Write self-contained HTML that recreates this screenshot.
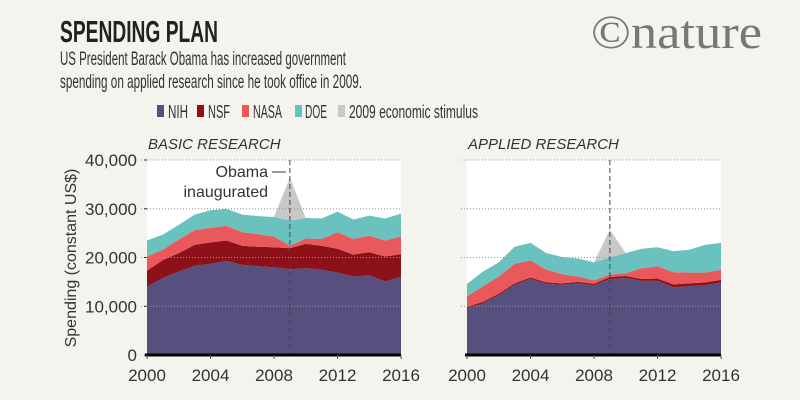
<!DOCTYPE html>
<html><head><meta charset="utf-8"><style>
body{margin:0;background:#f5f3ed;}
svg{display:block;font-family:"Liberation Sans",sans-serif;}
</style></head><body>
<svg id="chart" width="800" height="400" viewBox="0 0 800 400">
<rect x="0" y="0" width="800" height="400" fill="#f5f3ed"/>
<text x="60" y="42" font-size="31" font-weight="bold" fill="#222" textLength="158" lengthAdjust="spacingAndGlyphs">SPENDING PLAN</text>
<text x="60" y="65" font-size="19" fill="#333" textLength="286" lengthAdjust="spacingAndGlyphs">US President Barack Obama has increased government</text>
<text x="60" y="88" font-size="19" fill="#333" textLength="302" lengthAdjust="spacingAndGlyphs">spending on applied research since he took office in 2009.</text>
<text x="591" y="48" font-family="Liberation Serif,serif" font-size="48" fill="#777" textLength="171" lengthAdjust="spacingAndGlyphs">©nature</text>
<g>
<rect x="157" y="105" width="7" height="12" fill="#574f7e"/>
<text x="168" y="118" font-size="18" fill="#333" textLength="20" lengthAdjust="spacingAndGlyphs">NIH</text>
<rect x="197" y="105" width="7" height="12" fill="#8c1119"/>
<text x="208" y="118" font-size="18" fill="#333" textLength="22" lengthAdjust="spacingAndGlyphs">NSF</text>
<rect x="242" y="105" width="7" height="12" fill="#e9585a"/>
<text x="253" y="118" font-size="18" fill="#333" textLength="29" lengthAdjust="spacingAndGlyphs">NASA</text>
<rect x="295" y="105" width="7" height="12" fill="#6ac2bf"/>
<text x="305" y="118" font-size="18" fill="#333" textLength="22" lengthAdjust="spacingAndGlyphs">DOE</text>
<rect x="338" y="105" width="7" height="12" fill="#c8c8c8"/>
<text x="349" y="118" font-size="18" fill="#333" textLength="129" lengthAdjust="spacingAndGlyphs">2009 economic stimulus</text>
</g>
<text transform="translate(76,258) rotate(-90)" text-anchor="middle" font-size="16" fill="#333">Spending (constant US$)</text>
<g id="plots"></g>
</svg>
<script>
const years = [2000,2001,2002,2003,2004,2005,2006,2007,2008,2009,2010,2011,2012,2013,2014,2015,2016];
const xTicks = [2000,2004,2008,2012,2016];
const yTicks = [0,10000,20000,30000,40000];
const yTickLabels = ["0","10,000","20,000","30,000","40,000"];
const basicNIH  = [14.0,15.8,17.1,18.3,18.7,19.3,18.5,18.2,18.0,17.6,17.8,17.5,16.9,16.1,16.3,15.1,16.0];
const basicNSF  = [3.3,3.7,3.8,4.3,4.4,4.2,3.9,4.0,4.1,4.3,5.0,4.9,4.9,4.5,4.8,5.1,4.7];
const basicNASA = [2.9,2.1,2.8,3.0,3.0,3.0,2.8,2.6,2.2,0.5,1.1,1.4,3.4,3.2,3.4,3.3,3.6];
const basicDOE  = [3.3,3.1,3.0,3.2,3.6,3.5,3.6,3.7,4.0,5.2,4.2,4.2,4.2,4.0,4.1,4.5,4.7];
const basicStim = [0,0,0,0,0,0,0,0,0,8.8,0,0,0,0,0,0,0];
const appNIH  = [9.6,10.6,12.3,14.4,15.6,14.6,14.4,14.7,14.3,15.6,15.8,15.2,15.2,13.9,14.1,14.3,14.9];
const appNSF  = [0.3,0.3,0.3,0.3,0.3,0.3,0.3,0.3,0.3,0.4,0.4,0.4,0.5,0.6,0.6,0.6,0.5];
const appNASA = [2.1,3.2,3.5,4.0,3.5,2.6,1.9,1.1,0.7,0.5,0.6,2.2,2.5,2.5,2.2,2.0,2.1];
const appDOE  = [2.6,3.0,2.9,3.5,3.6,3.4,3.5,3.7,3.7,3.5,4.1,4.0,3.9,4.3,4.7,5.7,5.5];
const appStim = [0,0,0,0,0,0,0,0,0,5.7,0,0,0,0,0,0,0];

const NS="http://www.w3.org/2000/svg";
const root=document.getElementById('plots');
function mk(tag,attrs,parent){const e=document.createElementNS(NS,tag);for(const k in attrs)e.setAttribute(k,attrs[k]);parent.appendChild(e);return e;}

function drawPanel(name,x0,title,series,colors,showY,annot){
  const x1=x0+254, yTop=160, yBot=355;
  const xs=v=>x0+(v-2000)/16*(x1-x0);
  const ys=v=>yBot-v/40000*(yBot-yTop);
  const g=mk('g',{},root);
  
  
  const bg=mk('rect',{x:x0,y:yTop,width:x1-x0,height:yBot-yTop,fill:'#fff'},g);
  
  
  const t=mk('text',{x:x0+1,y:149,'font-size':15,'font-style':'italic',fill:'#333'},g);
  t.textContent=title;
  
  
  let base=years.map(()=>0);
  series.forEach((s,si)=>{
    const top=base.map((b,i)=>b+s.vals[i]*1000);
    let pts=years.map((y,i)=>xs(y)+','+ys(top[i]));
    for(let i=years.length-1;i>=0;i--)pts.push(xs(years[i])+','+ys(base[i]));
    const p=mk('polygon',{points:pts.join(' '),fill:colors[si]},g);
    
    
    base=top;
  });
  yTicks.forEach((v,i)=>{
    if(v>0){
      const l=mk('line',{x1:x0-6,x2:x1,y1:ys(v),y2:ys(v),stroke:'#999','stroke-width':1,'stroke-dasharray':'1,2'},g);
      
      
    }
    if(showY){
      const tx=mk('text',{x:x0-10,y:ys(v)+6,'text-anchor':'end','font-size':17,fill:'#333'},g);
      tx.textContent=yTickLabels[i];
      
      
      const tk=mk('line',{x1:x0-3,x2:x0,y1:ys(v),y2:ys(v),stroke:'#333','stroke-width':1},g);
      
      
    }
  });
  const d=mk('line',{x1:xs(2009),x2:xs(2009),y1:yTop,y2:yBot,stroke:'#444','stroke-width':1,'stroke-dasharray':'5,3'},g);
  
  
  const ax=mk('line',{x1:x0-2,x2:x1,y1:yBot,y2:yBot,stroke:'#000','stroke-width':3},g);
  
  
  xTicks.forEach(v=>{
    const tk=mk('line',{x1:xs(v),x2:xs(v),y1:yBot,y2:yBot+4,stroke:'#555','stroke-width':1},g);
    
    
    const tx=mk('text',{x:xs(v),y:381,'text-anchor':'middle','font-size':17,fill:'#333'},g);
    tx.textContent=v;
    
    
  });
  if(annot){
    const a1=mk('text',{x:268,y:177,'text-anchor':'end','font-size':16,fill:'#333'},g);
    a1.textContent='Obama';
    
    
    const a2=mk('text',{x:268,y:197,'text-anchor':'end','font-size':16,fill:'#333'},g);
    a2.textContent='inaugurated';
    
    
    const al=mk('line',{x1:272,x2:286,y1:172,y2:172,stroke:'#333','stroke-width':1},g);
    
    
  }
}
const colors=['#574f7e','#8c1119','#e9585a','#6ac2bf','#c8c8c8'];
drawPanel('basic-research',147,'BASIC RESEARCH',[
  {key:'nih',vals:basicNIH},{key:'nsf',vals:basicNSF},{key:'nasa',vals:basicNASA},{key:'doe',vals:basicDOE},{key:'stimulus',vals:basicStim}],colors,true,true);
drawPanel('applied-research',467,'APPLIED RESEARCH',[
  {key:'nih',vals:appNIH},{key:'nsf',vals:appNSF},{key:'nasa',vals:appNASA},{key:'doe',vals:appDOE},{key:'stimulus',vals:appStim}],colors,false,false);
</script>
</body></html>
